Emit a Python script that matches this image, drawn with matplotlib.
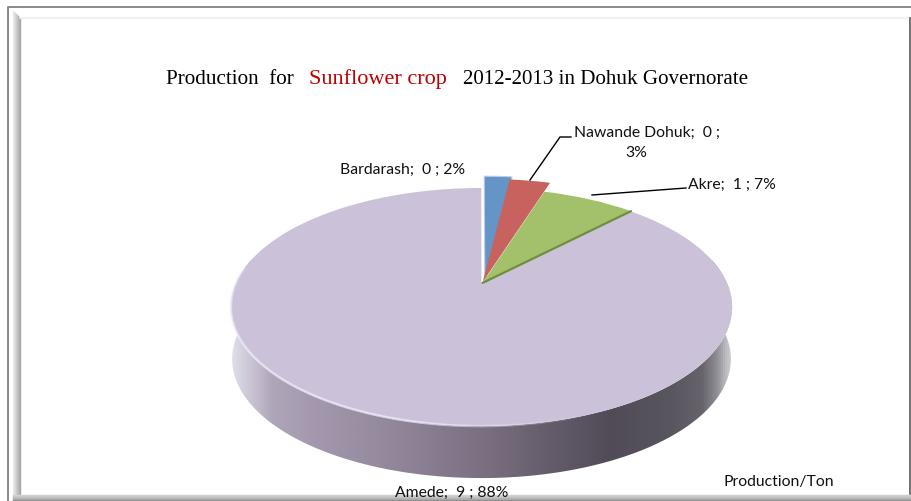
import numpy as np
import matplotlib
matplotlib.use("Agg")
import matplotlib.pyplot as plt
from matplotlib.colors import LinearSegmentedColormap
from matplotlib.collections import LineCollection
from matplotlib.path import Path
from matplotlib.transforms import Transform

categories = ["Bardarash", "Nawande Dohuk", "Akre", "Amede"]
production = [0.2, 0.3, 0.75, 9.0]
value_labels = ["0", "0", "1", "9"]
percent_labels = ["2%", "3%", "7%", "88%"]
slice_colors = ["#6594c6", "#c8625f", "#a3c16b", "#cbc2da"]
side_positions = [0, .02, .05, .08, .15, .3, .5, .7, .76, .88, .94, .97, .99, 1]
side_colors = ["#e2dfea", "#d4d0de", "#c4bccc", "#b0a6ba", "#a59aaf", "#95899d", "#7b7082",
               "#5a5360", "#504b56", "#5a5660", "#66636c", "#8f8d95", "#c0c0c4", "#d0d0d4"]

W, H = 912, 501
APEX_X, APEX_Y = 481.5, 283.0
PX, PY, PB = 245.5, 114.2, 0.2017
DEPTH = 52


class Perspective(Transform):
    input_dims = 2
    output_dims = 2
    is_separable = False
    has_inverse = False

    def __init__(self, dy=0.0, scale=1.0):
        super().__init__()
        self.dy = dy
        self.scale = scale

    def transform_non_affine(self, xy):
        xy = np.asarray(xy, float)
        d = 1 + PB * xy[:, 1]
        return np.column_stack([APEX_X + self.scale * PX * xy[:, 0] / d,
                                APEX_Y + self.dy - PY * xy[:, 1] / d])


fig = plt.figure(figsize=(W / 100, H / 100), dpi=100, facecolor="white")
ax = fig.add_axes([0, 0, 1, 1])

# ---- 3D wall of the pie
persp, persp_low = Perspective(), Perspective(DEPTH, 0.995)
t = np.radians(np.linspace(168, 372, 300))
circle = np.column_stack([np.cos(t), np.sin(t)])
top_rim = persp.transform(circle)
low_rim = persp_low.transform(circle)
wall = Path(np.vstack([top_rim, low_rim[::-1], top_rim[:1]]), closed=True)
cmap = LinearSegmentedColormap.from_list("wall", list(zip(side_positions, side_colors)))
x0, x1 = top_rim[:, 0].min(), top_rim[:, 0].max()
im = ax.imshow(np.linspace(0, 1, 512)[None, :], cmap=cmap, aspect="auto",
               extent=(x0, x1, H, 0), zorder=1)
im.set_clip_path(wall, ax.transData)

# ---- top of the pie
wedges, _ = ax.pie(production, startangle=90, counterclock=False, colors=slice_colors,
                   explode=[0.012, 0.008, 0, 0], wedgeprops={"linewidth": 0})
radii = [1.14, 1.11, 1.0, 1.0]
shift_x = [0.013, 0.003, 0.004, 0.0]
trans = persp + ax.transData
for w, r, s in zip(wedges, radii, shift_x):
    w.set_radius(r)
    w.set_center((w.center[0] + s, w.center[1]))
    w.set_transform(trans)
    w.set_clip_on(False)
    w.set_zorder(3)
wedges[3].set_zorder(2)
wedges[0].set_edgecolor("#b9cde3")
wedges[0].set_linewidth(0.8)

# white gap on the left of the exploded slices
gap = persp.transform(np.array([[0.006, 0], [0.006, 1.0]]))
ax.plot(gap[:, 0], gap[:, 1], color="white", lw=1.6, zorder=2.5)

# darker face of the Akre slice along its lower edge
end = 2 * np.pi * sum(production[:3]) / sum(production)
edge = persp.transform(np.array([[0.004, 0], [0.004 + np.sin(end), np.cos(end)]]))
ax.plot(edge[:, 0], edge[:, 1], color="#6f8f3d", lw=1.6, zorder=4, solid_capstyle="round")

# ---- bright rim along the front of the top
t2 = np.radians(np.linspace(172, 292, 200))
rim = persp.transform(np.column_stack([np.cos(t2), np.sin(t2)]))
segs = np.stack([rim[:-1], rim[1:]], axis=1)
alpha = np.interp(np.linspace(0, 1, len(segs)), [0, .15, .7, 1], [.25, .7, .75, 0])
rgba = np.column_stack([np.tile([0.95, 0.93, 1.0], (len(segs), 1)), alpha])
ax.add_collection(LineCollection(segs, colors=rgba, linewidths=1.8, zorder=4))

# ---- frame
ax.plot([8, 8, W], [H, 6.5, 6.5], color="#8a8a8a", lw=1.4, zorder=6)
for i, g in enumerate(np.linspace(0.92, 0.66, 8)):
    ax.plot([13.5 + i, 13.5 + i], [11 + i, 497], color=str(g), lw=1, zorder=5)
ax.plot([20, 909], [17.5, 17.5], color="#efefef", lw=1.2, zorder=5)
ax.plot([910, 910], [18, 494], color="#555555", lw=1.2, zorder=6)
ax.plot([911, 911], [18, 494], color="#a0a0a0", lw=1, zorder=6)
for y, g in zip(range(494, 501), [0.82, 0.8, 0.76, 0.72, 0.68, 0.58, 0.55]):
    ax.plot([13, W], [y + .5, y + .5], color=str(g), lw=1, zorder=6)

# ---- text
serif = "Liberation Serif"
ax.text(166, 84, "Production  for", color="black", family=serif, fontsize=15.2,
        va="baseline", ha="left", zorder=8)
ax.text(309.5, 84, "Sunflower crop", color="#c00000", family=serif, fontsize=16,
        va="baseline", ha="left", zorder=8)
ax.text(463, 84, "2012-2013 in Dohuk Governorate", color="black", family=serif, fontsize=15.1,
        va="baseline", ha="left", zorder=8)

lkw = dict(family="Lato", fontsize=11.3, color="#111111", zorder=8)


def label(i):
    return f"{categories[i]};  {value_labels[i]} ; {percent_labels[i]}"


ax.text(340, 170, label(0), ha="left", va="center", **lkw)
ax.text(574, 133, f"{categories[1]};  {value_labels[1]} ;", ha="left", va="center", **lkw)
ax.text(636, 153, percent_labels[1], ha="center", va="center", **lkw)
ax.text(688, 185, label(2), ha="left", va="center", **lkw)
ax.text(395, 493, label(3), ha="left", va="center", **lkw)
ax.text(724, 482, "Production/Ton", ha="left", va="center", **lkw)

# leader lines
ax.plot([530, 560, 571], [180, 137, 137], color="black", lw=1, zorder=7)
ax.plot([592, 686], [195, 188], color="black", lw=1, zorder=7)

ax.set_aspect("auto")
ax.set_xlim(0, W)
ax.set_ylim(H, 0)
ax.set_xticks([])
ax.set_yticks([])
ax.axis("off")
fig.savefig("out.png", dpi=100)
